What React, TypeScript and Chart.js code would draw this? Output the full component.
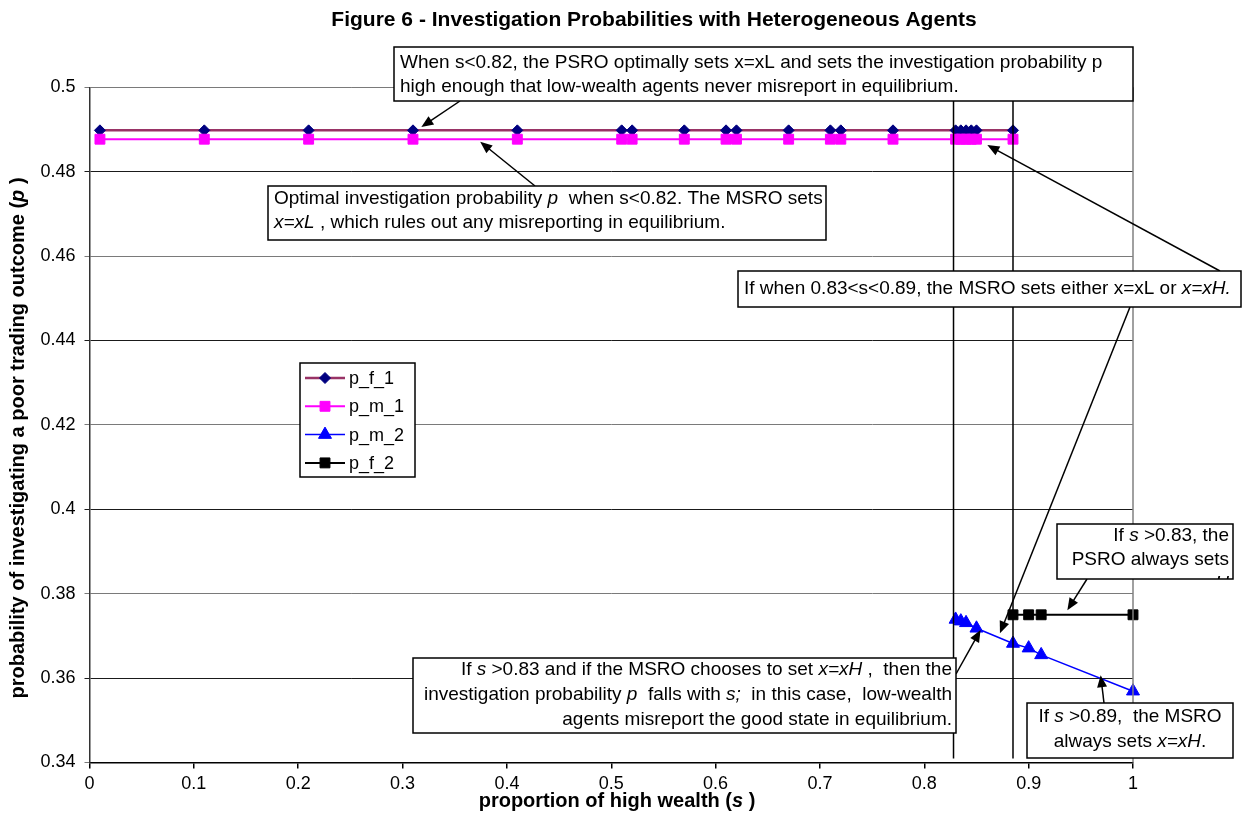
import React, { useEffect, useRef } from 'react';
import { Chart, registerables } from 'chart.js';
import { drawPoint } from 'chart.js/helpers';

Chart.register(...registerables);

const FONT = '"Liberation Sans", Arial, Helvetica, sans-serif';

// ---------- data ----------
const seriesNames = ['p_f_1', 'p_m_1', 'p_m_2', 'p_f_2'];

const sF1 = [0.01, 0.11, 0.21, 0.31, 0.41, 0.51, 0.52, 0.57, 0.61, 0.62, 0.67, 0.71, 0.72, 0.77, 0.83, 0.835, 0.84, 0.845, 0.85, 0.885];
const pF1 = [0.4898, 0.4898, 0.4898, 0.4898, 0.4898, 0.4898, 0.4898, 0.4898, 0.4898, 0.4898, 0.4898, 0.4898, 0.4898, 0.4898, 0.4898, 0.4898, 0.4898, 0.4898, 0.4898, 0.4898];

const sM1 = [0.01, 0.11, 0.21, 0.31, 0.41, 0.51, 0.52, 0.57, 0.61, 0.62, 0.67, 0.71, 0.72, 0.77, 0.83, 0.835, 0.84, 0.845, 0.85, 0.885];
const pM1 = [0.4877, 0.4877, 0.4877, 0.4877, 0.4877, 0.4877, 0.4877, 0.4877, 0.4877, 0.4877, 0.4877, 0.4877, 0.4877, 0.4877, 0.4877, 0.4877, 0.4877, 0.4877, 0.4877, 0.4877];

const sM2 = [0.83, 0.835, 0.84, 0.85, 0.885, 0.9, 0.912, 1.0];
const pM2 = [0.3739, 0.3735, 0.3731, 0.3718, 0.3682, 0.3671, 0.3655, 0.3569];

const sF2 = [0.885, 0.9, 0.912, 1.0];
const pF2 = [0.375, 0.375, 0.375, 0.375];

const boundaryS = [0.828, 0.885];

const xTicks = [0, 0.1, 0.2, 0.3, 0.4, 0.5, 0.6, 0.7, 0.8, 0.9, 1];
const xTickLabels = ['0', '0.1', '0.2', '0.3', '0.4', '0.5', '0.6', '0.7', '0.8', '0.9', '1'];
const yTicks = [0.34, 0.36, 0.38, 0.4, 0.42, 0.44, 0.46, 0.48, 0.5];
const yTickLabels = ['0.34', '0.36', '0.38', '0.4', '0.42', '0.44', '0.46', '0.48', '0.5'];

const titleText = 'Figure 6 - Investigation Probabilities with Heterogeneous Agents';

type Seg = { t: string; i?: boolean };
const P = (t: string): Seg => ({ t });
const I = (t: string): Seg => ({ t, i: true });

const xTitle: Seg[] = [P('proportion of high wealth ('), I('s'), P(' )')];
const yTitle: Seg[] = [P('probability of investigating a poor trading outcome ('), I('p'), P(' )')];

// annotation boxes (layout in pixels)
type Box = { l: number; t: number; r: number; b: number; align: 'left' | 'right' | 'center'; y0: number; lh: number; lines: Seg[][] };
const boxes: Box[] = [
  {
    l: 394, t: 47, r: 1133, b: 101, align: 'left', y0: 63, lh: 24,
    lines: [
      [P('When s<0.82, the PSRO optimally sets x=xL and sets the investigation probability p')],
      [P('high enough that low-wealth agents never misreport in equilibrium.')],
    ],
  },
  {
    l: 268, t: 186, r: 826, b: 240, align: 'left', y0: 199, lh: 24,
    lines: [
      [P('Optimal investigation probability '), I('p'), P('  when s<0.82. The MSRO sets')],
      [I('x=xL'), P(' , which rules out any misreporting in equilibrium.')],
    ],
  },
  {
    l: 738, t: 271, r: 1241, b: 307, align: 'left', y0: 289, lh: 24,
    lines: [[P('If when 0.83<s<0.89, the MSRO sets either x=xL or '), I('x=xH.')]],
  },
  {
    l: 1057, t: 524, r: 1233, b: 579, align: 'right', y0: 536, lh: 24,
    lines: [
      [P('If '), I('s'), P(' >0.83, the')],
      [P('PSRO always sets')],
      [I('x=xH')],
    ],
  },
  {
    l: 413, t: 658, r: 956, b: 733, align: 'right', y0: 670, lh: 25,
    lines: [
      [P('If '), I('s'), P(' >0.83 and if the MSRO chooses to set '), I('x=xH'), P(' ,  then the')],
      [P('investigation probability '), I('p'), P('  falls with '), I('s;'), P('  in this case,  low-wealth')],
      [P('agents misreport the good state in equilibrium.')],
    ],
  },
  {
    l: 1027, t: 703, r: 1233, b: 758, align: 'center', y0: 717, lh: 25,
    lines: [
      [P('If '), I('s'), P(' >0.89,  the MSRO')],
      [P('always sets '), I('x=xH'), P('.')],
    ],
  },
];

// arrows: tail in pixels, head in data coordinates
const arrows = [
  { tx: 460, ty: 101, hs: 0.318, hp: 0.4906 },
  { tx: 535, ty: 186, hs: 0.3744, hp: 0.4871 },
  { tx: 1220, ty: 271, hs: 0.8604, hp: 0.4863 },
  { tx: 1130, ty: 307, hs: 0.8725, hp: 0.3706 },
  { tx: 1087, ty: 579, hs: 0.9371, hp: 0.3761 },
  { tx: 956, ty: 674, hs: 0.8539, hp: 0.3714 },
  { tx: 1104, ty: 703, hs: 0.969, hp: 0.3607 },
];

const fontStr = (size: number, italic?: boolean, bold?: boolean) =>
  `${italic ? 'italic ' : ''}${bold ? 'bold ' : ''}${size}px ${FONT}`;

function segWidth(ctx: CanvasRenderingContext2D, segs: Seg[], size: number, bold?: boolean) {
  let w = 0;
  for (const s of segs) {
    ctx.font = fontStr(size, s.i, bold);
    w += ctx.measureText(s.t).width;
  }
  return w;
}

function drawSegs(ctx: CanvasRenderingContext2D, segs: Seg[], x: number, y: number, size: number, bold?: boolean) {
  let cx = x;
  ctx.textAlign = 'left';
  for (const s of segs) {
    ctx.font = fontStr(size, s.i, bold);
    ctx.fillText(s.t, cx, y);
    cx += ctx.measureText(s.t).width;
  }
}

function drawArrow(ctx: CanvasRenderingContext2D, x1: number, y1: number, x2: number, y2: number) {
  const ang = Math.atan2(y2 - y1, x2 - x1);
  const len = 12;
  const hw = 5;
  ctx.strokeStyle = '#000';
  ctx.fillStyle = '#000';
  ctx.lineWidth = 1.5;
  ctx.beginPath();
  ctx.moveTo(x1, y1);
  ctx.lineTo(x2 - Math.cos(ang) * len * 0.8, y2 - Math.sin(ang) * len * 0.8);
  ctx.stroke();
  ctx.beginPath();
  ctx.moveTo(x2, y2);
  ctx.lineTo(x2 - Math.cos(ang) * len + Math.sin(ang) * hw, y2 - Math.sin(ang) * len - Math.cos(ang) * hw);
  ctx.lineTo(x2 - Math.cos(ang) * len - Math.sin(ang) * hw, y2 - Math.sin(ang) * len + Math.cos(ang) * hw);
  ctx.closePath();
  ctx.fill();
}

const decorPlugin = {
  id: 'decor',
  afterDraw(chart: any) {
    const ctx: CanvasRenderingContext2D = chart.ctx;
    const xs = chart.scales.x;
    const ys = chart.scales.y;
    const area = chart.chartArea;
    ctx.save();

    // right border of plot area
    ctx.strokeStyle = '#808080';
    ctx.lineWidth = 1.5;
    ctx.beginPath();
    ctx.moveTo(area.right, area.top);
    ctx.lineTo(area.right, area.bottom);
    ctx.stroke();

    // boundary lines
    ctx.strokeStyle = '#000';
    ctx.lineWidth = 1.5;
    for (const s of boundaryS) {
      const px = xs.getPixelForValue(s);
      ctx.beginPath();
      ctx.moveTo(px, 101);
      ctx.lineTo(px, area.bottom - 4);
      ctx.stroke();
    }

    // arrows
    for (const a of arrows) {
      drawArrow(ctx, a.tx, a.ty, xs.getPixelForValue(a.hs), ys.getPixelForValue(a.hp));
    }

    // boxes
    const bsize = 19;
    ctx.textBaseline = 'middle';
    for (const b of boxes) {
      ctx.fillStyle = '#fff';
      ctx.fillRect(b.l, b.t, b.r - b.l, b.b - b.t);
      ctx.save();
      ctx.beginPath();
      ctx.rect(b.l, b.t, b.r - b.l, b.b - b.t);
      ctx.clip();
      ctx.fillStyle = '#000';
      b.lines.forEach((line, k) => {
        const w = segWidth(ctx, line, bsize);
        let x = b.l + 6;
        if (b.align === 'right') x = b.r - 4 - w;
        if (b.align === 'center') x = (b.l + b.r) / 2 - w / 2;
        drawSegs(ctx, line, x, b.y0 + k * b.lh, bsize);
      });
      ctx.restore();
      ctx.strokeStyle = '#000';
      ctx.lineWidth = 1.5;
      ctx.strokeRect(b.l, b.t, b.r - b.l, b.b - b.t);
    }

    // legend
    const lg = { l: 300, t: 363, r: 415, b: 477 };
    ctx.fillStyle = '#fff';
    ctx.fillRect(lg.l, lg.t, lg.r - lg.l, lg.b - lg.t);
    ctx.strokeStyle = '#000';
    ctx.lineWidth = 1.5;
    ctx.strokeRect(lg.l, lg.t, lg.r - lg.l, lg.b - lg.t);
    chart.data.datasets.forEach((ds: any, k: number) => {
      const y = 378 + k * 28.3;
      ctx.strokeStyle = ds.borderColor;
      ctx.lineWidth = ds.borderWidth;
      ctx.beginPath();
      ctx.moveTo(305, y);
      ctx.lineTo(345, y);
      ctx.stroke();
      ctx.fillStyle = ds.pointBackgroundColor;
      ctx.strokeStyle = ds.pointBorderColor;
      ctx.lineWidth = 1;
      drawPoint(ctx, { pointStyle: ds.pointStyle, radius: ds.pointRadius, rotation: 0, borderWidth: 1 } as any, 325, y);
      ctx.fillStyle = '#000';
      ctx.font = fontStr(18);
      ctx.textAlign = 'left';
      ctx.fillText(ds.label, 349, y + 1);
    });

    // title
    ctx.fillStyle = '#000';
    ctx.font = fontStr(21, false, true);
    ctx.textAlign = 'center';
    ctx.fillText(titleText, 654, 20);

    // x title
    const xw = segWidth(ctx, xTitle, 20, true);
    drawSegs(ctx, xTitle, 617 - xw / 2, 801, 20, true);

    // y title
    ctx.save();
    ctx.translate(18, 438);
    ctx.rotate(-Math.PI / 2);
    const yw = segWidth(ctx, yTitle, 20, true);
    drawSegs(ctx, yTitle, -yw / 2, 0, 20, true);
    ctx.restore();

    ctx.restore();
  },
};

function toPts(xs: number[], ys: number[]) {
  return xs.map((x, i) => ({ x, y: ys[i] }));
}

export default function App() {
  const ref = useRef<HTMLCanvasElement | null>(null);
  useEffect(() => {
    document.body.style.margin = '0';
    const canvas = ref.current;
    if (!canvas) return;
    const chart = new Chart(canvas, {
      type: 'line',
      data: {
        datasets: [
          {
            label: seriesNames[0], data: toPts(sF1, pF1), order: 1,
            borderColor: '#993366', borderWidth: 2.5, pointStyle: 'rectRot', pointRadius: 5.5,
            pointBackgroundColor: '#000080', pointBorderColor: '#000080', pointBorderWidth: 1, clip: false,
          },
          {
            label: seriesNames[1], data: toPts(sM1, pM1), order: 0,
            borderColor: '#FF00FF', borderWidth: 2, pointStyle: 'rect', pointRadius: 7,
            pointBackgroundColor: '#FF00FF', pointBorderColor: '#FF00FF', pointBorderWidth: 1, clip: false,
          },
          {
            label: seriesNames[2], data: toPts(sM2, pM2), order: 2,
            borderColor: '#0000FF', borderWidth: 1.5, pointStyle: 'triangle', pointRadius: 7.5,
            pointBackgroundColor: '#0000FF', pointBorderColor: '#0000FF', pointBorderWidth: 1, clip: false,
          },
          {
            label: seriesNames[3], data: toPts(sF2, pF2), order: 3,
            borderColor: '#000000', borderWidth: 2, pointStyle: 'rect', pointRadius: 7,
            pointBackgroundColor: '#000000', pointBorderColor: '#000000', pointBorderWidth: 1, clip: false,
          },
        ] as any,
      },
      options: {
        responsive: false,
        animation: false,
        devicePixelRatio: 1,
        events: [],
        layout: { padding: { top: 87.3, right: 116, left: 0, bottom: 0 } },
        plugins: { legend: { display: false }, title: { display: false }, tooltip: { enabled: false } },
        elements: { line: { tension: 0 } },
        scales: {
          x: {
            type: 'linear', min: 0, max: 1,
            afterBuildTicks: (s: any) => { s.ticks = xTicks.map((v) => ({ value: v })); },
            afterFit: (s: any) => { s.height = 76.5; },
            ticks: {
              autoSkip: false, maxRotation: 0, padding: 5, color: '#000',
              font: { family: FONT, size: 18 },
              callback: (_v: any, i: number) => xTickLabels[i],
            },
            grid: { drawOnChartArea: false, drawTicks: true, tickLength: 6, color: '#000', lineWidth: 1.5 },
            border: { color: '#000', width: 1.5 },
          },
          y: {
            type: 'linear', min: 0.34, max: 0.5,
            afterBuildTicks: (s: any) => { s.ticks = yTicks.map((v) => ({ value: v })); },
            afterFit: (s: any) => { s.width = 89.5; },
            ticks: {
              autoSkip: false, padding: 9, color: '#000',
              font: { family: FONT, size: 18 },
              callback: (_v: any, i: number) => yTickLabels[i],
            },
            grid: {
              drawTicks: true, tickLength: 5, lineWidth: 1,
              color: (c: any) => (c.index % 2 === 0 ? '#7a7a7a' : '#1a1a1a'),
            },
            border: { color: '#333', width: 1.5 },
          },
        },
      } as any,
      plugins: [decorPlugin],
    });
    return () => chart.destroy();
  }, []);
  return (
    <div style={{ width: 1249, height: 839, background: '#fff' }}>
      <canvas ref={ref} width={1249} height={839} style={{ display: 'block', width: 1249, height: 839 }} />
    </div>
  );
}
